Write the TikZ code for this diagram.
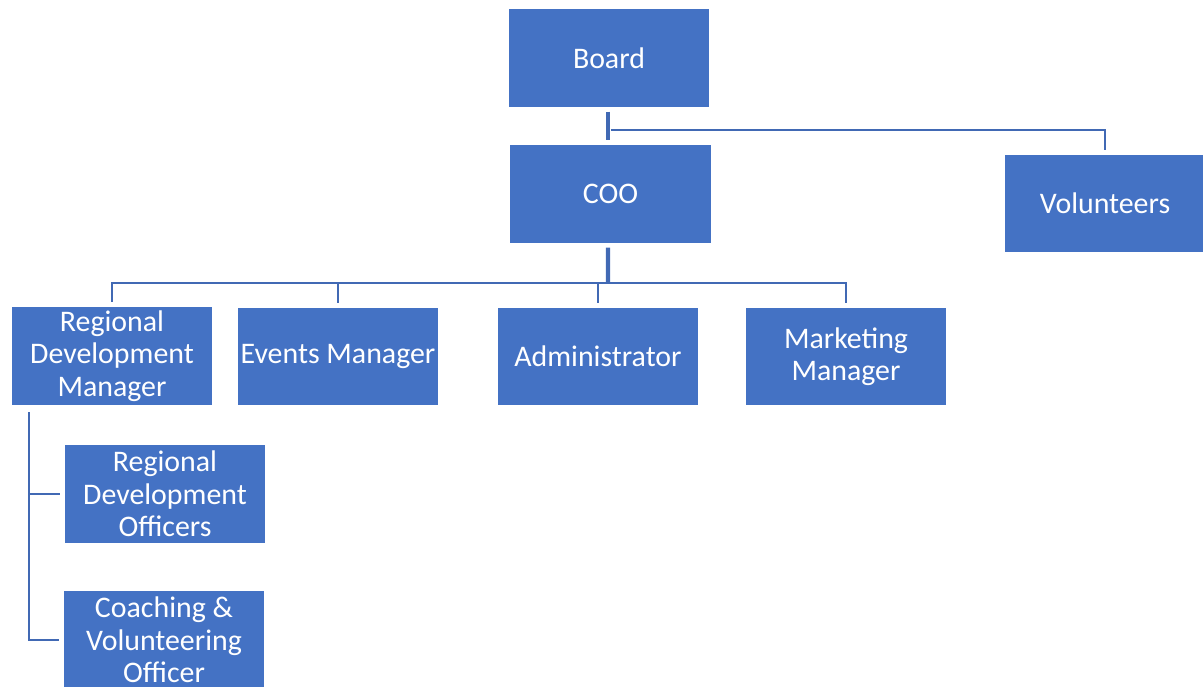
\documentclass[tikz,border=0pt]{standalone}
\usepackage{fontspec}
\setmainfont{Carlito}
\usepackage{xcolor}
\usepackage{tikz}
\usetikzlibrary{positioning,calc}

\definecolor{orgblue}{HTML}{4472C4}
\definecolor{linkblue}{HTML}{4169B4}

\begin{document}
\begin{tikzpicture}[
  x=0.02cm, y=-0.02cm,
  box/.style={fill=orgblue, text=white, minimum width=4.02cm, minimum height=1.96cm,
    inner sep=0pt, align=center, font=\fontsize{17}{18.4}\selectfont},
  link/.style={draw=linkblue, line width=1.1pt, shorten <=4pt, shorten >=2.4pt},
  trunk/.style={draw=linkblue, line width=2.3pt, shorten <=2.4pt},
]
  \useasboundingbox (0,0) rectangle (1203,686);

  % Top
  \node[box] (board) at (609,58)    {Board};
  \node[box] (coo)   at (610.5,194) {COO};
  \node[box] (vol)   at (1105,203.5) {Volunteers};

  % Row of managers
  \node[box] (rdm) at (112,356)   {Regional\\Development\\Manager};
  \node[box] (em)  at (338,356.5) {Events Manager};
  \node[box] (adm) at (598,356.5) {Administrator};
  \node[box] (mm)  at (846,356.5) {Marketing\\Manager};

  % Under the regional manager
  \node[box] (rdo) at (165,494) {Regional\\Development\\Officers};
  \node[box] (cvo) at (164,640) {Coaching \&\\Volunteering\\Officer};

  % Board -> COO, branch to volunteers
  \coordinate (bj) at ($(board.south)!0.6!(coo.north)+(-1,0)$);
  \draw[trunk, shorten >=2.4pt] ([xshift=-0.02cm]board.south) -- ([xshift=-0.02cm]board.south |- coo.north);
  \draw[link, shorten <=0pt] ([xshift=0.04cm]bj) -| (vol.north);

  % COO -> managers
  \coordinate (cj) at ($(coo.south)+(-2.5,40)$);
  \draw[trunk] ([xshift=-0.05cm]coo.south) -- (cj);
  \foreach \n in {rdm,em,adm,mm}
    \draw[link, shorten <=0pt] (cj) -| (\n.north);

  % Regional manager -> officers
  \draw[link] ([xshift=0.36cm]rdm.south west) |- (rdo.west);
  \draw[link] ([xshift=0.36cm]rdm.south west) |- (cvo.west);
\end{tikzpicture}
\end{document}
